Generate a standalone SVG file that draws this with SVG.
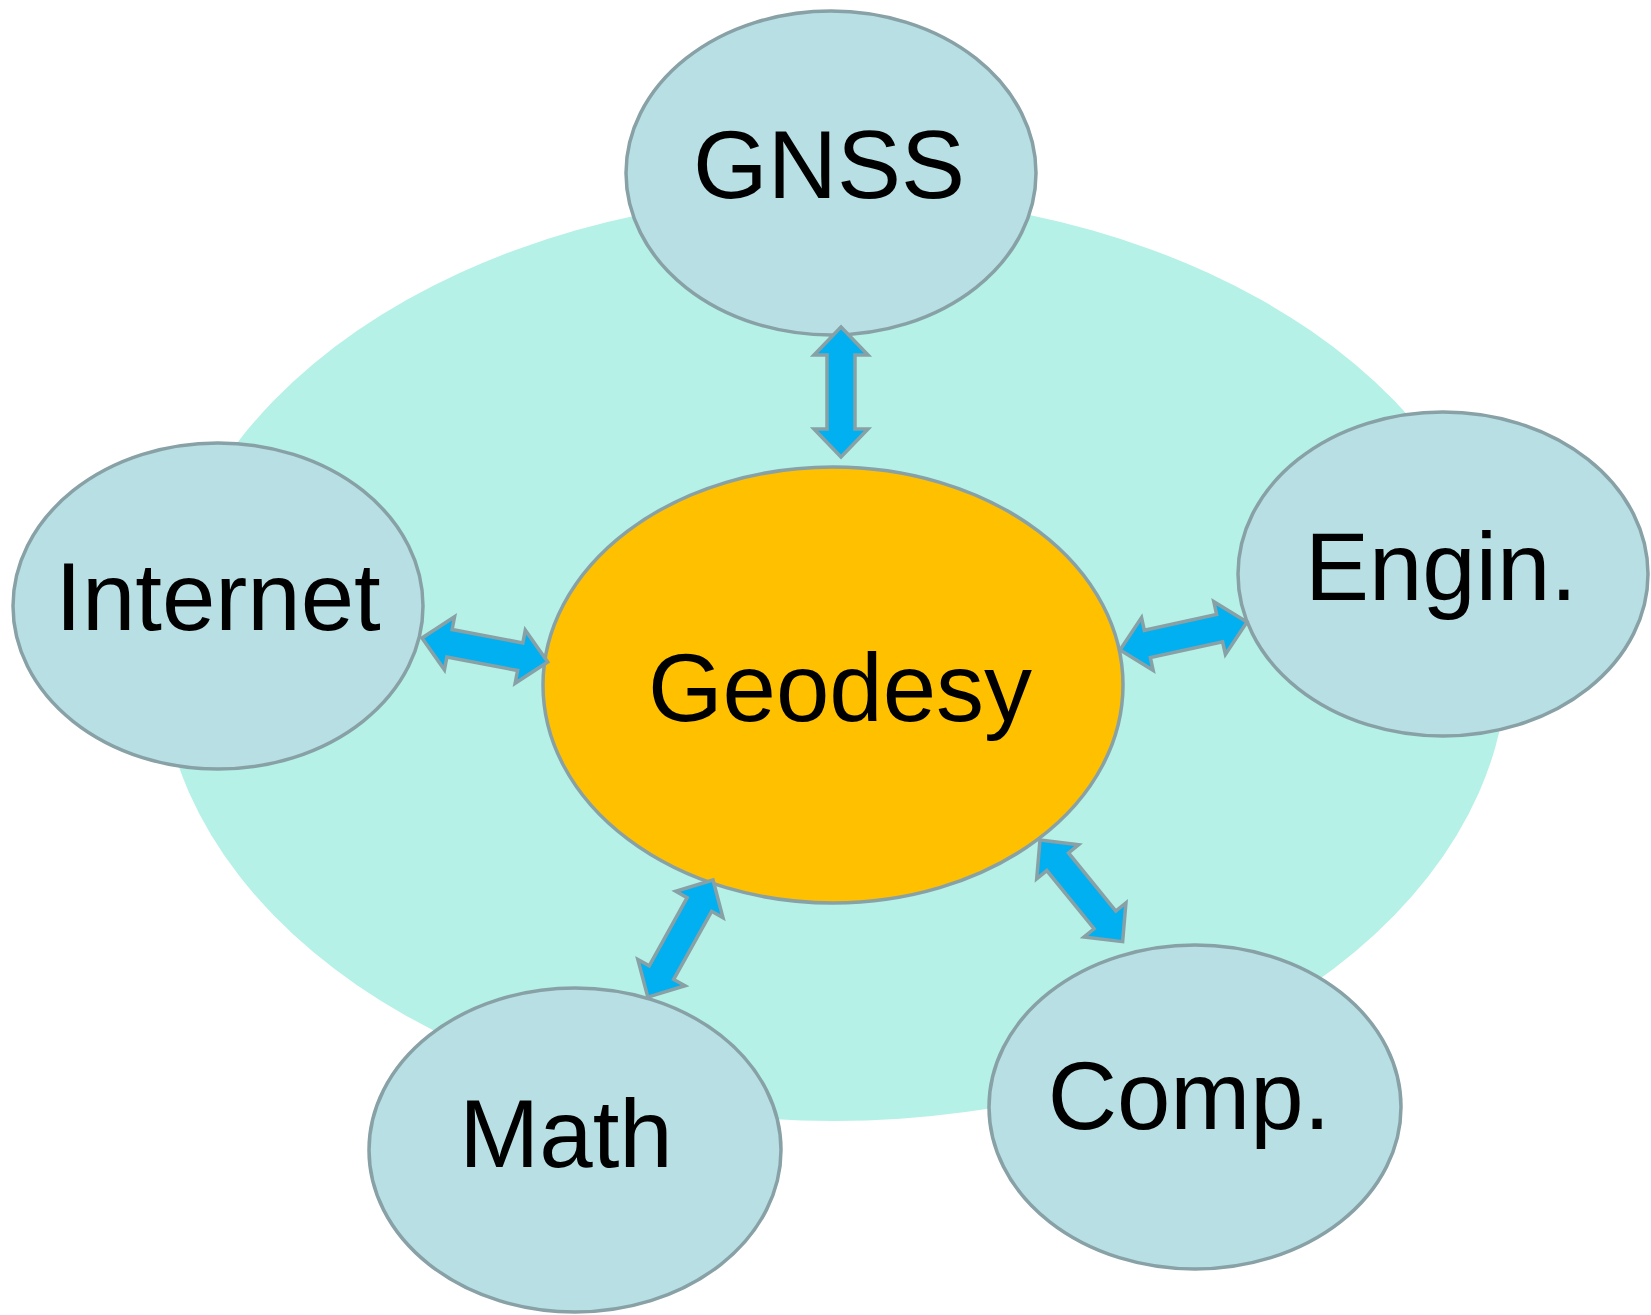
<svg xmlns="http://www.w3.org/2000/svg" width="1651" height="1315" viewBox="0 0 1651 1315">
<style>
.node{fill:#B8DFE3;stroke:#87A1A6;stroke-width:3.5}
.core{fill:#FFC000;stroke:#87A1A6;stroke-width:3.5}
.lbl{font-family:"Liberation Sans",Arial,sans-serif;font-size:96px;fill:#000;text-anchor:middle}
.arr{fill:#00B0F0;stroke:#87A1A6;stroke-width:3.5;stroke-linejoin:miter}
</style>
<rect width="1651" height="1315" fill="#FFFFFF"/>
<ellipse id="background" cx="834" cy="658" rx="674" ry="463" fill="#B5F1E6"/>
<g id="node-geodesy"><ellipse class="core" cx="833" cy="685" rx="290" ry="218"/><text class="lbl" x="840" y="721">Geodesy</text></g>
<g id="node-gnss"><ellipse class="node" cx="831" cy="173" rx="205" ry="162"/><text class="lbl" x="829" y="198">GNSS</text></g>
<g id="node-internet"><ellipse class="node" cx="218" cy="606" rx="205" ry="163"/><text class="lbl" x="218" y="630">Internet</text></g>
<g id="node-engin"><ellipse class="node" cx="1443" cy="574" rx="205" ry="162"/><text class="lbl" x="1441" y="600">Engin.</text></g>
<g id="node-math"><ellipse class="node" cx="575" cy="1150" rx="206" ry="162"/><text class="lbl" x="566" y="1167">Math</text></g>
<g id="node-comp"><ellipse class="node" cx="1195" cy="1107" rx="206" ry="162"/><text class="lbl" x="1189" y="1129">Comp.</text></g>
<g id="connectors">
<polygon class="arr" transform="translate(841,327) rotate(90)" points="0,0 28,-27 28,-14 102,-14 102,-27 130,0 102,27 102,14 28,14 28,27"/>
<polygon class="arr" transform="translate(422,638) rotate(10.8)" points="0,0 28,-27 28,-14 100,-14 100,-27 128,0 100,27 100,14 28,14 28,27"/>
<polygon class="arr" transform="translate(1120,650) rotate(-12.4)" points="0,0 28,-27 28,-14 102,-14 102,-27 130,0 102,27 102,14 28,14 28,27"/>
<polygon class="arr" transform="translate(713,880) rotate(119.1)" points="0,0 28,-27 28,-14 106,-14 106,-27 134,0 106,27 106,14 28,14 28,27"/>
<polygon class="arr" transform="translate(1040,840) rotate(50.9)" points="0,0 28,-27 28,-14 103,-14 103,-27 131,0 103,27 103,14 28,14 28,27"/>
</g>
</svg>
